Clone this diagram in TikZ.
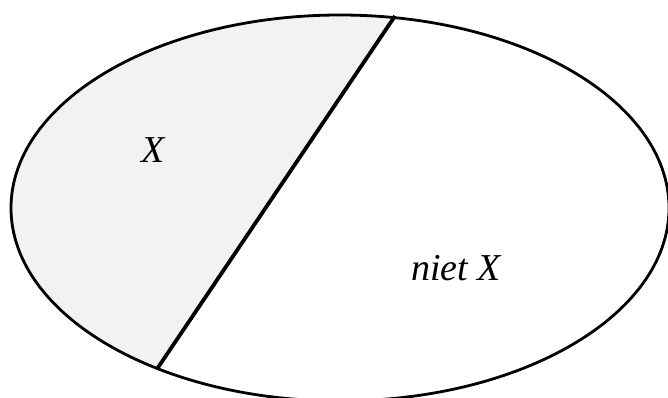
\documentclass[tikz,border=0pt]{standalone}
\usepackage{fontspec}
\setmainfont{Liberation Serif}
\tikzset{
  outline/.style={line width=2.8pt, draw=black},
  divider/.style={line width=3.8pt, draw=black},
  lbl/.style={font=\fontsize{38}{40}\selectfont\itshape, inner sep=0pt},
}
\begin{document}
\begin{tikzpicture}[x=1pt,y=-1pt]
\useasboundingbox (0,0) rectangle (668,398);
\begin{scope}
  \clip (0,0) rectangle (668,398);
  \begin{scope}
    \clip (419,-20) -- (133,404) -- (-10,404) -- (-10,-20) -- cycle;
    \fill[fill={rgb,255:red,242;green,242;blue,242}] (340,208) ellipse [x radius=329, y radius=193];
  \end{scope}
  \draw[outline] (340,208) ellipse [x radius=329, y radius=193];
  \coordinate (top) at (395,16);
  \coordinate (bot) at (157,369);
  \draw[divider] (top) -- (bot);
\end{scope}
\node[lbl] (x) at (153,150) {X};
\node[lbl] (nx) at (456,268) {niet X};
\end{tikzpicture}
\end{document}
